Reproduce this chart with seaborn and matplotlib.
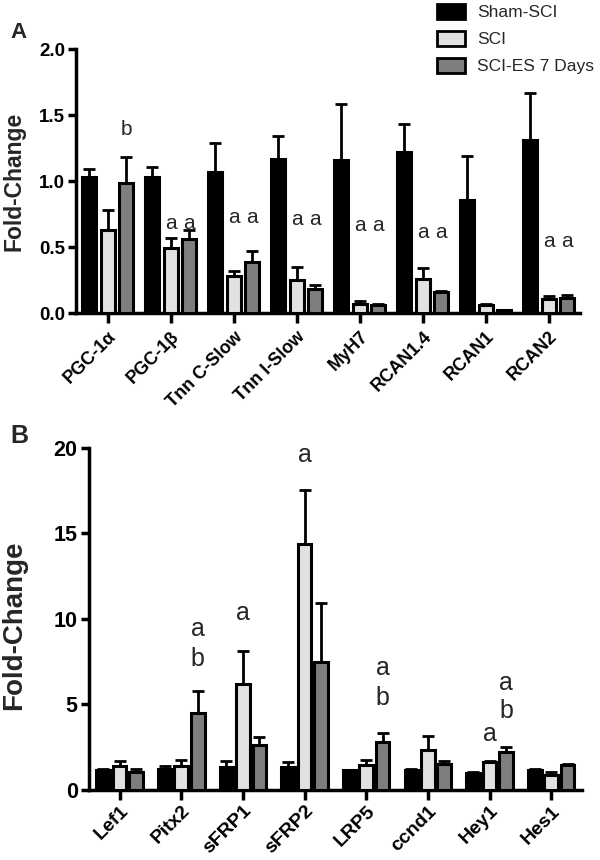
import matplotlib
matplotlib.use("Agg")
import numpy as np
import pandas as pd
import matplotlib.pyplot as plt
import matplotlib.patches as mpatches
import seaborn as sns

# groups and colours
groups = ["Sham-SCI", "SCI", "SCI-ES 7 Days"]
palette = ["#000000", "#e1e1e1", "#7e7e7e"]

# panel A: slow-fibre / calcineurin genes
genes_a = ["PGC-1α", "PGC-1β", "Tnn C-Slow", "Tnn I-Slow", "MyH7", "RCAN1.4", "RCAN1", "RCAN2"]
sham_a = [1.03, 1.03, 1.07, 1.17, 1.16, 1.22, 0.86, 1.31]
sham_a_err = [0.06, 0.08, 0.22, 0.17, 0.42, 0.21, 0.33, 0.36]
sci_a = [0.63, 0.49, 0.28, 0.25, 0.07, 0.26, 0.06, 0.11]
sci_a_err = [0.15, 0.08, 0.04, 0.10, 0.02, 0.08, 0.01, 0.02]
es_a = [0.985, 0.56, 0.39, 0.18, 0.06, 0.16, 0.02, 0.115]
es_a_err = [0.20, 0.07, 0.08, 0.03, 0.005, 0.01, 0.003, 0.025]

# panel B: Wnt / Notch genes
genes_b = ["Lef1", "Pitx2", "sFRP1", "sFRP2", "LRP5", "ccnd1", "Hey1", "Hes1"]
sham_b = [1.15, 1.24, 1.34, 1.36, 1.14, 1.18, 1.02, 1.18]
sham_b_err = [0.05, 0.14, 0.33, 0.28, 0.05, 0.05, 0.03, 0.06]
sci_b = [1.38, 1.38, 6.21, 14.38, 1.46, 2.31, 1.62, 0.89]
sci_b_err = [0.32, 0.35, 1.91, 3.14, 0.27, 0.84, 0.09, 0.15]
es_b = [1.04, 4.47, 2.64, 7.49, 2.80, 1.52, 2.23, 1.44]
es_b_err = [0.20, 1.34, 0.47, 3.41, 0.51, 0.15, 0.27, 0.06]

# significance letters: gene, group index, letter, label height
sig_a_gene = ["PGC-1α", "PGC-1β", "PGC-1β", "Tnn C-Slow", "Tnn C-Slow", "Tnn I-Slow", "Tnn I-Slow",
              "MyH7", "MyH7", "RCAN1.4", "RCAN1.4", "RCAN2", "RCAN2"]
sig_a_group = [2, 1, 2, 1, 2, 1, 2, 1, 2, 1, 2, 1, 2]
sig_a_text = ["b", "a", "a", "a", "a", "a", "a", "a", "a", "a", "a", "a", "a"]
sig_a_y = [1.39, 0.68, 0.68, 0.72, 0.72, 0.71, 0.71, 0.66, 0.66, 0.61, 0.61, 0.54, 0.54]

sig_b_gene = ["Pitx2", "Pitx2", "sFRP1", "sFRP2", "LRP5", "LRP5", "Hey1", "Hey1", "Hey1"]
sig_b_group = [2, 2, 1, 1, 2, 2, 1, 2, 2]
sig_b_text = ["a", "b", "a", "a", "a", "b", "a", "a", "b"]
sig_b_y = [9.42, 7.65, 10.35, 19.6, 7.1, 5.4, 3.25, 6.26, 4.6]

sns.set_style("ticks")
plt.rcParams["font.family"] = ["Liberation Sans", "DejaVu Sans"]


def long_table(genes, series, errs):
    rows = []
    for g, vals, ers in zip(groups, series, errs):
        for gene, v, e in zip(genes, vals, ers):
            rows.append({"gene": gene, "group": g, "value": v, "err": e})
    return pd.DataFrame(rows)


def draw_panel(ax, df, genes, ylim, yticks, yfmt, fs_tick, fs_xtick, fs_ylab, fs_sig,
               sig, width, gap, xpad):
    sns.barplot(data=df, x="gene", y="value", hue="group", order=genes, hue_order=groups,
                palette=palette, errorbar=None, width=width, gap=gap, edgecolor="black",
                linewidth=2.2, legend=False, ax=ax, zorder=3)
    for cont, g in zip(ax.containers, groups):
        sub = df[df.group == g].set_index("gene").loc[genes]
        xs = [p.get_x() + p.get_width() / 2 for p in cont]
        ax.errorbar(xs, sub["value"], yerr=[np.zeros(len(genes)), sub["err"]], fmt="none",
                    ecolor="black", elinewidth=2, capsize=4, capthick=2, zorder=2)
    genes_s, grp_s, txt_s, y_s = sig
    for gene, gi, t, y in zip(genes_s, grp_s, txt_s, y_s):
        p = ax.containers[gi][genes.index(gene)]
        ax.text(p.get_x() + p.get_width() / 2, y, t, ha="center", va="center",
                fontsize=fs_sig, zorder=4)

    ax.set_ylim(*ylim)
    ax.set_xlim(-0.5, len(genes) - 0.5)
    ax.set_yticks(yticks)
    ax.set_yticklabels([yfmt.format(v) for v in yticks], fontsize=fs_tick, fontweight="bold")
    ax.set_xticks(range(len(genes)))
    ax.set_xticklabels(genes, rotation=45, ha="right", va="top", rotation_mode="anchor",
                       fontsize=fs_xtick, fontweight="bold")
    ax.set_xlabel("")
    ax.set_ylabel("Fold-Change", fontsize=fs_ylab, fontweight="bold")
    sns.despine(ax=ax)
    for s in ["left", "bottom"]:
        ax.spines[s].set_linewidth(2.5)
        ax.spines[s].set_color("black")
    ax.tick_params(axis="y", length=6, width=2.5, pad=2, colors="black")
    ax.tick_params(axis="x", length=7, width=2.5, pad=xpad, colors="black")


fig = plt.figure(figsize=(6, 8.6), dpi=100)

ax_a = fig.add_axes([0.127, 0.636, 0.84, 0.307])
df_a = long_table(genes_a, [sham_a, sci_a, es_a], [sham_a_err, sci_a_err, es_a_err])
draw_panel(ax_a, df_a, genes_a, (0, 2.0), [0, 0.5, 1.0, 1.5, 2.0], "{:.1f}", 13.5, 13, 16.5, 15,
           (sig_a_gene, sig_a_group, sig_a_text, sig_a_y), 0.88, 0.24, 4)
ax_a.yaxis.set_label_coords(-0.1, 0.5)

ax_b = fig.add_axes([0.148, 0.0814, 0.822, 0.398])
df_b = long_table(genes_b, [sham_b, sci_b, es_b], [sham_b_err, sci_b_err, es_b_err])
draw_panel(ax_b, df_b, genes_b, (0, 20), [0, 5, 10, 15, 20], "{:d}", 15.5, 14, 20, 18,
           (sig_b_gene, sig_b_group, sig_b_text, sig_b_y), 0.8, 0.17, 2)
ax_b.yaxis.set_label_coords(-0.125, 0.48)

handles = [mpatches.Patch(facecolor=c, edgecolor="black", linewidth=2, label=g)
           for c, g in zip(palette, groups)]
fig.legend(handles=handles, loc="upper left", bbox_to_anchor=(0.728, 0.995), frameon=False,
           fontsize=12.5, handlelength=1.6, handleheight=0.9, handletextpad=0.7,
           labelspacing=0.62, borderpad=0, borderaxespad=0)

fig.text(10 / 600, 1 - 32 / 860, "A", fontsize=16, fontweight="bold", va="center")
fig.text(10 / 600, 1 - 436 / 860, "B", fontsize=18, fontweight="bold", va="center")

fig.savefig("out.png", dpi=100)
